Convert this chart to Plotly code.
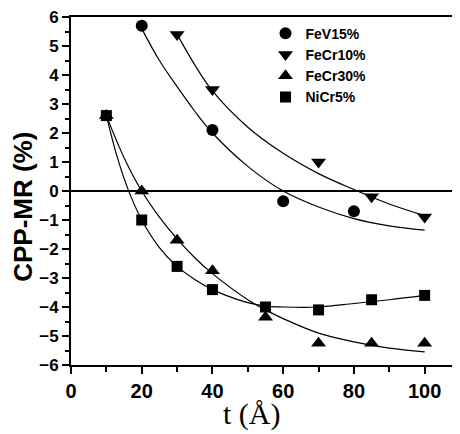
import plotly.graph_objects as go

# Measured data points
fev15_x = [20, 40, 60, 80]
fev15_y = [5.7, 2.1, -0.35, -0.7]
fecr10_x = [30, 40, 70, 85, 100]
fecr10_y = [5.4, 3.5, 1.0, -0.2, -0.9]
fecr30_x = [10, 20, 30, 40, 55, 70, 85, 100]
fecr30_y = [2.6, 0.0, -1.7, -2.75, -4.35, -5.25, -5.25, -5.25]
nicr5_x = [10, 20, 30, 40, 55, 70, 85, 100]
nicr5_y = [2.6, -1.0, -2.6, -3.4, -4.0, -4.1, -3.75, -3.6]

# Fit curves
fev15_fx = [20, 25, 30, 35, 40, 50, 60, 70, 80, 90, 100]
fev15_fy = [5.6, 4.5, 3.6, 2.75, 2.0, 0.85, 0.0, -0.55, -0.95, -1.2, -1.35]
fecr10_fx = [30, 35, 40, 50, 60, 70, 80, 90, 100]
fecr10_fy = [5.4, 4.35, 3.45, 2.2, 1.3, 0.6, 0.05, -0.45, -0.85]
fecr30_fx = [10, 15, 20, 25, 30, 35, 40, 50, 55, 60, 70, 80, 90, 100]
fecr30_fy = [2.6, 1.15, 0.0, -0.9, -1.65, -2.3, -2.85, -3.75, -4.1, -4.4, -4.9, -5.2, -5.42, -5.55]
nicr5_fx = [10, 13, 16, 20, 25, 30, 35, 40, 45, 50, 55, 60, 70, 80, 90, 100]
nicr5_fy = [2.6, 1.2, 0.1, -1.0, -1.95, -2.6, -3.05, -3.4, -3.65, -3.85, -3.97, -4.0, -4.0, -3.88, -3.75, -3.6]

x_ticks = [0, 20, 40, 60, 80, 100]
y_ticks = list(range(-6, 7))

series = [
    ("FeV15%", fev15_x, fev15_y, fev15_fx, fev15_fy, "circle", 12),
    ("FeCr10%", fecr10_x, fecr10_y, fecr10_fx, fecr10_fy, "triangle-down", 13),
    ("FeCr30%", fecr30_x, fecr30_y, fecr30_fx, fecr30_fy, "triangle-up", 13),
    ("NiCr5%", nicr5_x, nicr5_y, nicr5_fx, nicr5_fy, "square", 11),
]

SANS = "Liberation Sans, Arial"

fig = go.Figure()
for name, x, y, fx, fy, sym, sz in series:
    fig.add_trace(go.Scatter(x=fx, y=fy, mode="lines", line=dict(color="black", width=1.2, shape="spline"),
                             showlegend=False, hoverinfo="skip"))
for name, x, y, fx, fy, sym, sz in series:
    fig.add_trace(go.Scatter(x=x, y=y, mode="markers", name=name,
                             marker=dict(symbol=sym, color="black", size=sz)))

fig.add_shape(type="line", xref="paper", x0=0, x1=1, yref="y", y0=0, y1=0,
              line=dict(color="black", width=2))

fig.add_annotation(text="t (Å)", xref="paper", yref="paper", x=0.465, y=-0.195,
                   xanchor="center", yanchor="bottom", showarrow=False,
                   font=dict(size=30, family="Liberation Serif, Times New Roman", color="black"))
fig.add_annotation(text="<b>CPP-MR (%)</b>", xref="paper", yref="paper", x=-0.123, y=0.455,
                   xanchor="center", yanchor="middle", showarrow=False, textangle=-90,
                   font=dict(size=26, family=SANS, color="black"))

# The page body adds an 8px offset, so the figure is sized to fill the rest of the window
fig.update_layout(
    width=452, height=426,
    margin=dict(l=63, r=0, t=9, b=69),
    paper_bgcolor="white", plot_bgcolor="white",
    font=dict(family=SANS, color="black"),
    legend=dict(x=0.5, y=0.998, xanchor="left", yanchor="top", bgcolor="rgba(0,0,0,0)",
                font=dict(size=14, family=SANS, weight="bold"),
                tracegroupgap=0, itemwidth=30),
    xaxis=dict(range=[0, 110], tickmode="array", tickvals=x_ticks, automargin=False,
               ticks="outside", ticklen=7, tickwidth=2, tickcolor="black", ticklabeloverflow="allow",
               minor=dict(tickvals=[10, 30, 50, 70, 90, 110], ticks="outside", ticklen=5, tickwidth=2, tickcolor="black"),
               showline=True, mirror=True, linecolor="black", linewidth=2, showgrid=False, zeroline=False,
               tickfont=dict(size=20, family=SANS, weight="bold")),
    yaxis=dict(range=[-6, 6], tickmode="array", tickvals=y_ticks, automargin=False,
               ticks="outside", ticklen=7, tickwidth=2, tickcolor="black", ticklabeloverflow="allow",
               minor=dict(dtick=0.5, ticks="outside", ticklen=4, tickwidth=2, tickcolor="black"),
               showline=True, linecolor="black", linewidth=2, showgrid=False, zeroline=False,
               tickfont=dict(size=17, family=SANS, weight="bold")),
)

fig.write_html("out.html")
